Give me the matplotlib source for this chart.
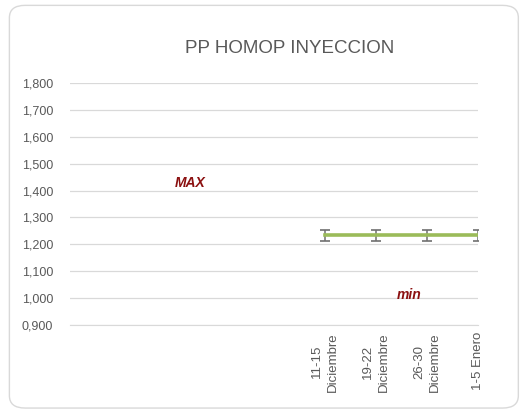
import numpy as np
import matplotlib.pyplot as plt
from matplotlib.patches import FancyBboxPatch

plt.rcParams['font.family'] = ['Liberation Sans', 'DejaVu Sans']

categories = ["", "", "", "", "", "11-15\nDiciembre", "19-22\nDiciembre", "26-30\nDiciembre", "1-5 Enero"]
values = [np.nan, np.nan, np.nan, np.nan, np.nan, 1.233, 1.233, 1.233, 1.233]
errors = [0, 0, 0, 0, 0, 0.02, 0.02, 0.02, 0.02]
yticks = [0.9, 1.0, 1.1, 1.2, 1.3, 1.4, 1.5, 1.6, 1.7, 1.8]

label_text = ["MAX", "min"]
label_x = [2.35, 6.65]
label_y = [1.428, 1.013]

fig = plt.figure(figsize=(5.22, 4.13), dpi=100)
ax = fig.add_axes([0.134, 0.213, 0.782, 0.586])

# chart border
fig.patches.append(FancyBboxPatch((0.018, 0.012), 0.975, 0.975, boxstyle="round,pad=0,rounding_size=0.03",
                                  transform=fig.transFigure, fill=False, edgecolor="#d9d9d9", linewidth=1.0))

x = np.arange(len(categories))
ax.errorbar(x, values, yerr=errors, color="#9bbb59", linewidth=2.6, ecolor="#6f6f6f",
            elinewidth=1.1, capsize=3.5, capthick=1.2, zorder=3)

for t, lx, ly in zip(label_text, label_x, label_y):
    ax.text(lx, ly, t, color="#8b1010", fontsize=10, fontweight="bold", fontstyle="italic",
            ha="center", va="center")

ax.set_xlim(0, len(categories) - 1)
ax.set_ylim(0.9, 1.8)
ax.set_yticks(yticks)
ax.set_yticklabels([f"{v:.3f}".replace(".", ",") for v in yticks])
ax.set_xticks(x)
ax.set_xticklabels(categories, rotation=90, multialignment="center", linespacing=1.45)
ax.tick_params(length=0, labelsize=9, colors="#595959")
ax.tick_params(axis="x", labelsize=9.5, pad=5)
ax.tick_params(axis="y", pad=12)

ax.grid(axis="y", color="#d9d9d9", linewidth=0.9)
ax.set_axisbelow(True)
for s in ["top", "right", "left"]:
    ax.spines[s].set_visible(False)
ax.spines["bottom"].set_color("#d9d9d9")

fig.text(0.555, 0.883, "PP HOMOP INYECCION", fontsize=13.5, color="#595959", ha="center", va="center")

fig.savefig("out.png", dpi=100)
